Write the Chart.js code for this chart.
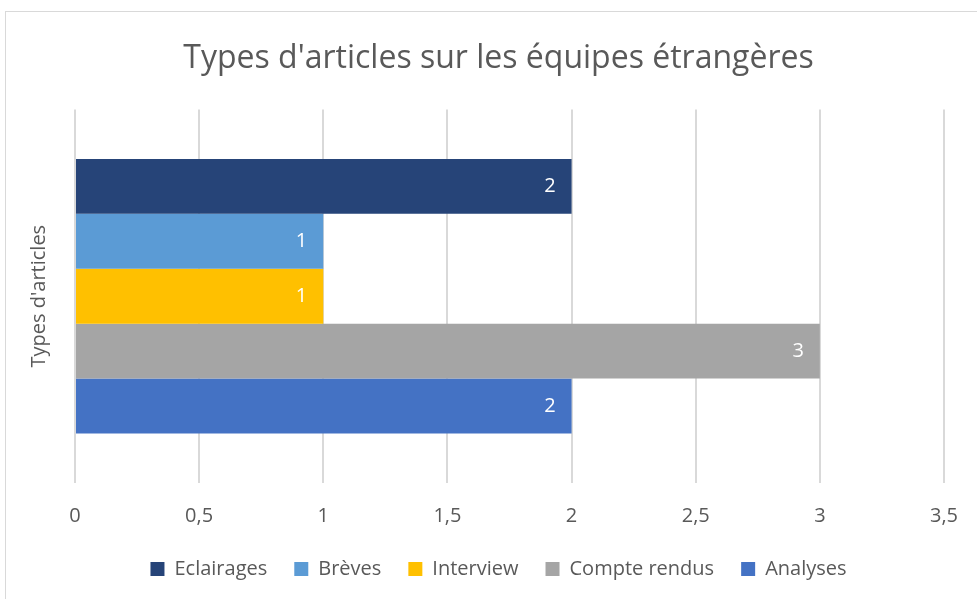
<!DOCTYPE html>
<html>
<head>
<meta charset="utf-8">
<script src="https://cdn.jsdelivr.net/npm/chart.js@4.4.1/dist/chart.umd.min.js"></script>
<style>
  html, body { margin: 0; padding: 0; background: #fff; overflow: hidden; }
  #frame {
    position: absolute; left: 5px; top: 11px;
    width: 990px; height: 600px;
    border: 1px solid #d9d9d9; box-sizing: border-box;
  }
  #wrap { position: absolute; left: 0; top: 0; width: 985px; height: 587px; }
</style>
</head>
<body>
<div id="frame"><div id="wrap"><canvas id="typesChart"></canvas></div></div>
<script>
// data
var categories = [''];
var seriesNames = ['Eclairages', 'Brèves', 'Interview', 'Compte rendus', 'Analyses'];
var seriesValues = [2, 1, 1, 3, 2];
var seriesColors = ['#264478', '#5B9BD5', '#FFC000', '#A5A5A5', '#4472C4'];
var xTicks = [0, 0.5, 1, 1.5, 2, 2.5, 3, 3.5];

Chart.defaults.font.family = '"Open Sans", "Noto Sans", sans-serif';
Chart.defaults.color = '#595959';

// white value labels inside the end of each bar
var barLabels = {
    id: 'barLabels',
    afterDatasetsDraw: function(chart) {
        var ctx = chart.ctx;
        ctx.save();
        ctx.fillStyle = '#ffffff';
        ctx.font = '20px "Open Sans", sans-serif';
        ctx.textAlign = 'right';
        ctx.textBaseline = 'middle';
        chart.data.datasets.forEach(function(ds, i) {
            chart.getDatasetMeta(i).data.forEach(function(bar, j) {
                ctx.fillText(String(ds.data[j]), bar.x - 16, bar.y);
            });
        });
        ctx.restore();
    }
};

var datasets = seriesNames.map(function(name, i) {
    return {
        label: name,
        data: [seriesValues[i]],
        backgroundColor: seriesColors[i],
        borderWidth: 0,
        barPercentage: 1,
        categoryPercentage: 0.735
    };
});

var ctx = document.getElementById('typesChart').getContext('2d');
var typesChart = new Chart(ctx, {
    type: 'bar',
    plugins: [barLabels],
    data: { labels: categories, datasets: datasets },
    options: {
        indexAxis: 'y',
        responsive: true,
        maintainAspectRatio: false,
        animation: false,
        layout: { padding: { left: 0, right: 0, top: 0, bottom: 10 } },
        scales: {
            x: {
                min: 0,
                max: 3.5,
                afterBuildTicks: function(scale) {
                    scale.ticks = xTicks.map(function(v) { return { value: v }; });
                },
                afterFit: function(scale) { scale.height = 49; },
                ticks: {
                    padding: 21,
                    font: { size: 20 },
                    color: '#595959',
                    callback: function(v) { return String(v).replace('.', ','); }
                },
                grid: { color: '#d9d9d9', lineWidth: 2, drawTicks: false },
                border: { display: false }
            },
            y: {
                afterFit: function(scale) { scale.width = 69; },
                ticks: { display: false },
                grid: { display: false },
                border: { display: false },
                title: {
                    display: true,
                    text: "Types d'articles",
                    font: { size: 20 },
                    color: '#595959',
                    padding: { top: 21, bottom: 4 }
                }
            },
            // empty right-hand spacer so title and legend stay centred on the frame
            yRight: {
                type: 'category',
                position: 'right',
                afterFit: function(scale) { scale.width = 47; },
                ticks: { display: false },
                grid: { display: false },
                border: { display: false }
            }
        },
        plugins: {
            title: {
                display: true,
                text: "Types d'articles sur les équipes étrangères",
                font: { size: 32, weight: 'normal' },
                color: '#595959',
                padding: { top: 28, bottom: 31 }
            },
            legend: {
                position: 'bottom',
                labels: {
                    boxWidth: 14,
                    boxHeight: 14,
                    padding: 27,
                    font: { size: 20 },
                    color: '#595959'
                }
            },
            tooltip: { enabled: false }
        }
    }
});
</script>
</body>
</html>
